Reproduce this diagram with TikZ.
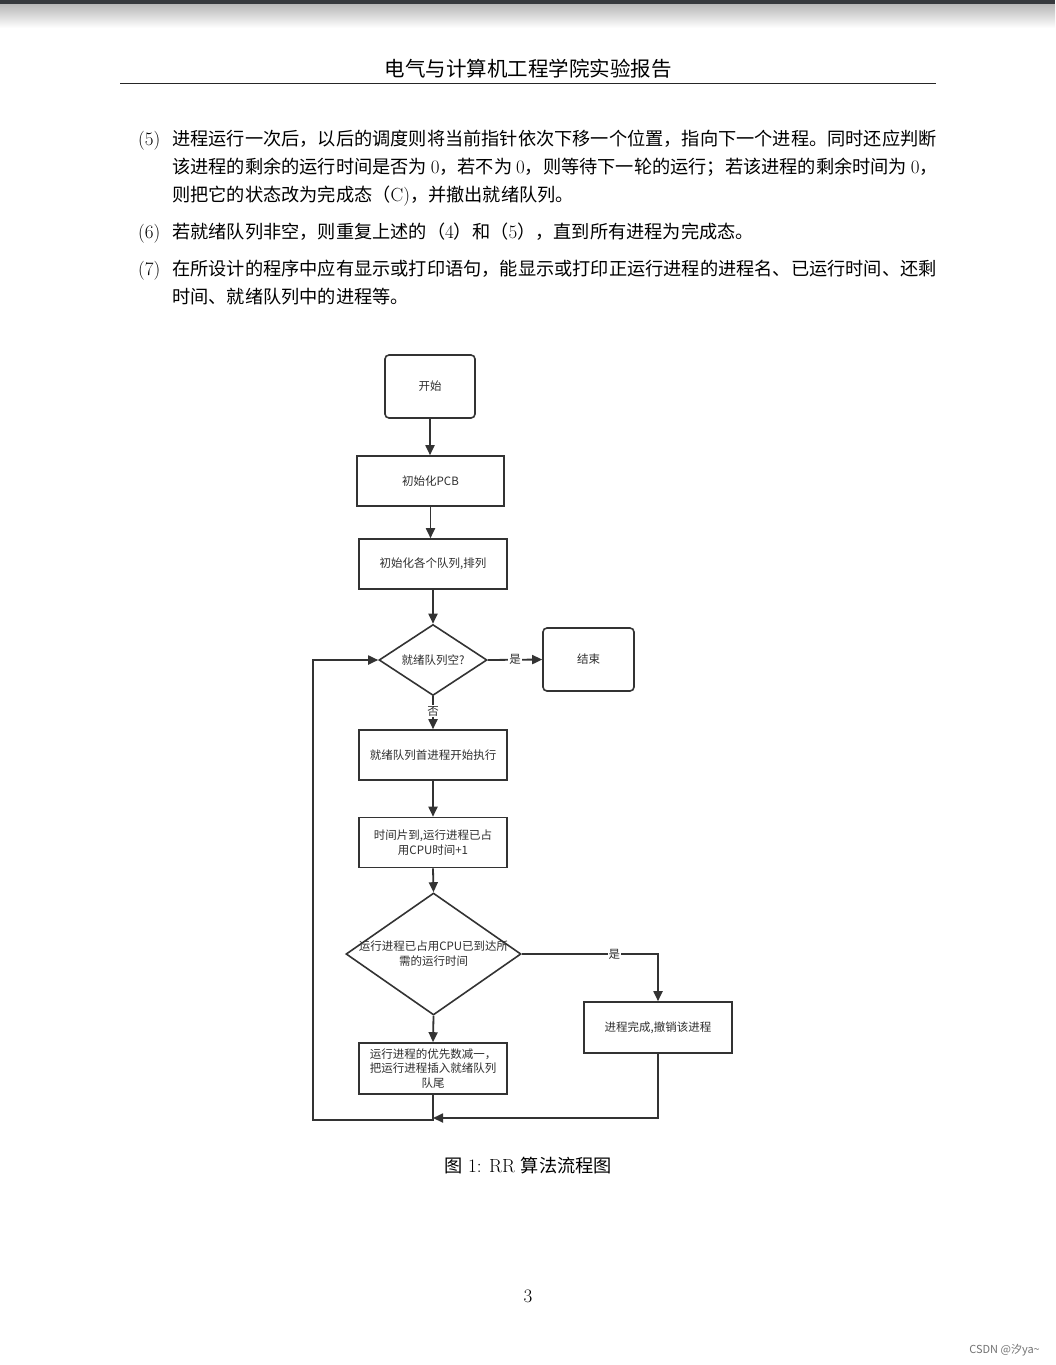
\documentclass[tikz,border=0pt]{standalone}
\usepackage{fontspec}
\usetikzlibrary{arrows.meta,shapes.geometric}
\newfontfamily\cjk[Scale=0.958]{Noto Sans CJK SC}
\newfontfamily\cjkb{Noto Sans CJK SC}
\XeTeXlinebreaklocale "zh"
\XeTeXlinebreakskip=0pt plus 1pt minus 0.6pt
\definecolor{linec}{HTML}{333333}
\definecolor{textc}{HTML}{2E2E2E}
\definecolor{barc}{HTML}{36393D}
\newcommand\bodyfont{\fontsize{19}{28}\selectfont}
\newcommand\boxfont{\cjkb\fontsize{11.5}{15}\selectfont}
\tikzset{
  box/.style={draw=linec, line width=1.6pt, fill=white, minimum height=50pt, inner sep=0pt, font=\boxfont, text=textc, align=center},
  rbox/.style={box, rounded corners=4pt},
  diam/.style={draw=linec, line width=1.6pt, fill=white, diamond, inner sep=0pt},
  arr/.style={draw=linec, line width=1.8pt, -{Triangle[length=10pt,width=9pt]}},
  lbl/.style={fill=white, inner sep=1pt, font=\boxfont, text=textc},
  bodyline/.style={anchor=base west, inner sep=0pt, font=\bodyfont, text=black},
}
\begin{document}
\begin{tikzpicture}[x=1pt,y=-1pt]
\useasboundingbox (0,0) rectangle (1055,1365);
\fill[white] (0,0) rectangle (1055,1365);
% top bar
\fill[barc] (0,0) rectangle (1055,4);
\shade[top color=black!28, bottom color=white] (0,4) rectangle (1055,28);
% header
\node[anchor=base, inner sep=0pt, font=\cjkb\fontsize{20.5}{24}\selectfont] (hdr) at (528,76) {电气与计算机工程学院实验报告};
\draw[line width=1.3pt, black!85] (120,83.5) -- (936,83.5);
% paragraphs
\node[bodyline] (n5) at (138,145) {(5)};
\node[bodyline] (p5a) at (172,145) {\makebox[764pt][s]{\cjk 进程运行一次后，以后的调度则将当前指针依次下移一个位置，指向下一个进程。同时还应判断}};
\node[bodyline] (p5b) at (172,173) {\makebox[764pt][s]{{\cjk 该进程的剩余的运行时间是否为} 0{\cjk ，若不为} 0{\cjk ，则等待下一轮的运行；若该进程的剩余时间为} 0{\cjk ，}}};
\node[bodyline] (p5c) at (172,201) {{\cjk 则把它的状态改为完成态（}C){\cjk ，并撤出就绪队列。}};
\node[bodyline] (n6) at (138,238) {(6)};
\node[bodyline] (p6) at (172,238) {{\cjk 若就绪队列非空，则重复上述的（}4{\cjk ）和（}5{\cjk ），直到所有进程为完成态。}};
\node[bodyline] (n7) at (138,275) {(7)};
\node[bodyline] (p7a) at (172,275) {\makebox[764pt][s]{\cjk 在所设计的程序中应有显示或打印语句，能显示或打印正运行进程的进程名、已运行时间、还剩}};
\node[bodyline] (p7b) at (172,303) {{\cjk 时间、就绪队列中的进程等。}};
% flowchart nodes
\node[rbox, minimum width=90pt, minimum height=63pt] (start) at (430,386.5) {开始};
\node[box, minimum width=147pt] (pcb) at (430.5,481) {初始化PCB};
\node[box, minimum width=148pt] (init) at (433,564) {初始化各个队列,排列};
\node[diam, minimum width=108pt, minimum height=71pt, label={[font=\boxfont, text=textc]center:就绪队列空?}] (empty) at (433,660) {};
\node[rbox, minimum width=91pt, minimum height=63pt] (end) at (588.5,659.5) {结束};
\node[box, minimum width=148pt] (exec) at (433,755) {就绪队列首进程开始执行};
\node[box, minimum width=148pt] (tslice) at (433,842.5) {时间片到,运行进程已占\\用CPU时间+1};
\node[diam, minimum width=175pt, minimum height=122pt, label={[font=\boxfont, text=textc, align=center]center:运行进程已占用CPU已到达所\\需的运行时间}] (reach) at (433.5,954) {};
\node[box, minimum width=148pt, minimum height=51pt] (done) at (658,1027.5) {进程完成,撤销该进程};
\node[box, minimum width=148pt, minimum height=51pt, font=\cjkb\fontsize{11.5}{14.5}\selectfont] (dec) at (433,1068.5) {运行进程的优先数减一，\\把运行进程插入就绪队列\\队尾};
\coordinate (m) at (433,1118);
\coordinate (lb) at (313,1120);
% connectors
\draw[arr] (start.south) -- (start.south |- pcb.north);
\draw[arr] (pcb.south) -- (pcb.south |- init.north);
\draw[arr] (init.south) -- (empty.north);
\draw[arr] (empty.east) -- node[lbl]{是} (end.west);
\draw[arr] (empty.south) -- node[lbl, pos=0.45]{否} (exec.north);
\draw[arr] (exec.south) -- (tslice.north);
\draw[arr] (tslice.south) -- (reach.north);
\draw[arr] (reach.south) -- (dec.north);
\draw[arr] (reach.east) -| node[lbl, pos=0.34]{是} (done.north);
\draw[arr] (dec.south) |- (lb) |- (empty.west);
\draw[arr] (done.south) |- (m);
% caption, page number, watermark
\node[anchor=base, inner sep=0pt, font=\bodyfont] (cap) at (528,1172) {{\cjk 图} 1: RR {\cjk 算法流程图}};
\node[anchor=base, inner sep=0pt, font=\bodyfont] (pg) at (528,1302) {3};
\node[anchor=base east, inner sep=0pt, font=\cjkb\fontsize{11}{12}\selectfont, text=black!55] (wm) at (1040,1353) {CSDN @汐ya\textasciitilde};
\end{tikzpicture}
\end{document}
